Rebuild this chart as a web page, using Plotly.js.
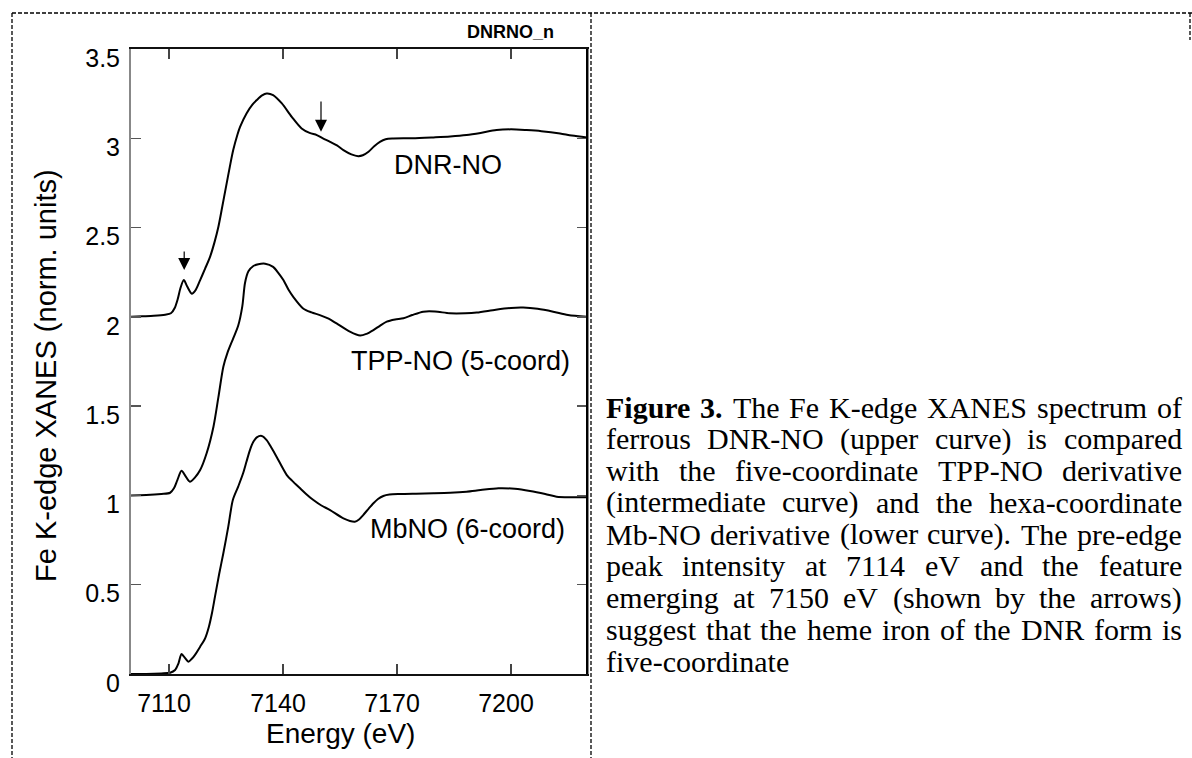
<!DOCTYPE html>
<html>
<head>
<meta charset="utf-8">
<script src="https://cdn.plot.ly/plotly-3.0.1.min.js"></script>
<style>
html,body{margin:0;padding:0;background:#fff;}
#chart{width:1192px;height:758px;}
</style>
</head>
<body>
<div id="chart"></div>
<script>
// ---------------- data ----------------
const energyDNR = [7100, 7103, 7106, 7109, 7110.5, 7111.5, 7112.3, 7113.0, 7113.9, 7114.8, 7116.0, 7117.0, 7118.2, 7119.5, 7120.8, 7122.0, 7123.0, 7124.0, 7125.0, 7126.0, 7126.9, 7128.0, 7128.7, 7130.4, 7132.0, 7133.1, 7134.5, 7135.7, 7137.4, 7139.7, 7142.3, 7144.9, 7147.0, 7148.9, 7150.5, 7152.4, 7154.2, 7155.9, 7158.0, 7159.8, 7161.0, 7162.5, 7164.0, 7165.5, 7167.0, 7169, 7174, 7179.6, 7184, 7188.3, 7192, 7196.2, 7200, 7204.1, 7208, 7212.9, 7216, 7220];
const dnrNO = [2.0, 2.003, 2.006, 2.012, 2.02, 2.05, 2.10, 2.16, 2.206, 2.17, 2.13, 2.15, 2.206, 2.27, 2.336, 2.42, 2.505, 2.615, 2.728, 2.84, 2.934, 3.02, 3.064, 3.139, 3.19, 3.214, 3.24, 3.251, 3.242, 3.195, 3.12, 3.055, 3.03, 3.018, 3.0, 2.98, 2.96, 2.934, 2.91, 2.90, 2.905, 2.925, 2.955, 2.98, 2.995, 2.999, 3.0, 3.005, 3.01, 3.018, 3.03, 3.046, 3.05, 3.046, 3.04, 3.027, 3.015, 3.005];

const energyTPP = [7100, 7104, 7108, 7110.3, 7111.3, 7112.2, 7113.3, 7114.3, 7115.5, 7116.8, 7118.2, 7119.9, 7121.7, 7123.0, 7124.3, 7125.4, 7126.9, 7128.2, 7129.3, 7130.0, 7130.9, 7132.2, 7133.5, 7135.3, 7137.4, 7138.8, 7140.1, 7141.5, 7142.7, 7145.3, 7147.5, 7149.7, 7152, 7154.1, 7157.6, 7160.3, 7162, 7163.8, 7165.5, 7167.3, 7169.5, 7171.7, 7174, 7176.9, 7180, 7183.9, 7188, 7191, 7196, 7200, 7203.2, 7207, 7211.1, 7215, 7220];
const tppNO = [1.0, 1.002, 1.008, 1.015, 1.04, 1.086, 1.138, 1.11, 1.077, 1.10, 1.142, 1.236, 1.385, 1.55, 1.721, 1.80, 1.88, 1.95, 2.06, 2.19, 2.255, 2.285, 2.295, 2.298, 2.28, 2.245, 2.206, 2.15, 2.112, 2.047, 2.025, 2.01, 1.99, 1.963, 1.917, 1.895, 1.905, 1.926, 1.95, 1.973, 1.985, 1.992, 2.01, 2.029, 2.03, 2.02, 2.02, 2.024, 2.04, 2.05, 2.052, 2.045, 2.029, 2.01, 2.0];

const energyMb = [7100, 7104, 7108, 7110.3, 7111.6, 7112.5, 7113.3, 7114.2, 7115.1, 7116.0, 7116.8, 7118.2, 7119.5, 7120.5, 7121.3, 7122.1, 7123.2, 7124.3, 7125.6, 7126.8, 7128.2, 7129.5, 7130.4, 7131.3, 7132.2, 7133.1, 7134.4, 7135.7, 7137.0, 7138.3, 7141.0, 7142.5, 7144.5, 7146, 7148.0, 7150, 7152.4, 7155.9, 7158.9, 7160, 7161.1, 7162.5, 7163.8, 7165, 7166.4, 7168, 7170.8, 7175, 7179.6, 7184, 7188.3, 7192, 7196.7, 7201, 7205, 7209, 7212, 7216, 7220];
const mbNO = [0, 0.0, 0.003, 0.007, 0.022, 0.06, 0.112, 0.09, 0.069, 0.085, 0.106, 0.153, 0.2, 0.265, 0.34, 0.433, 0.56, 0.676, 0.825, 0.974, 1.049, 1.124, 1.19, 1.254, 1.30, 1.325, 1.333, 1.31, 1.265, 1.217, 1.114, 1.08, 1.04, 1.01, 0.974, 0.945, 0.918, 0.872, 0.853, 0.865, 0.89, 0.925, 0.956, 0.98, 0.997, 1.005, 1.008, 1.01, 1.012, 1.015, 1.021, 1.03, 1.04, 1.037, 1.025, 1.008, 0.993, 0.99, 0.99];

const curveNames = ['DNR-NO', 'TPP-NO (5-coord)', 'MbNO (6-coord)'];
const xTickVals = [7110, 7140, 7170, 7200];
const yTickVals = [0, 0.5, 1, 1.5, 2, 2.5, 3, 3.5];
const arrowEnergies = [7114, 7150];
const sampleTag = 'DNRNO_n';
const xTitle = 'Energy (eV)';
const yTitle = 'Fe K-edge XANES (norm. units)';
const captionLines = [
  'Figure 3. The Fe K-edge XANES spectrum of',
  'ferrous DNR-NO (upper curve) is compared',
  'with the five-coordinate TPP-NO derivative',
  '(intermediate curve) and the hexa-coordinate',
  'Mb-NO derivative (lower curve). The pre-edge',
  'peak intensity at 7114 eV and the feature',
  'emerging at 7150 eV (shown by the arrows)',
  'suggest that the heme iron of the DNR form is',
  'five-coordinate'
];
const captionBold = ['Figure', '3.'];

// ---------------- layout helpers ----------------
const W = 1192, H = 758;
const M = {l: 131, r: 605, t: 49, b: 84};
const plotW = W - M.l - M.r, plotH = H - M.t - M.b;
const px2x = p => (p - M.l) / plotW;
const px2y = p => (H - M.b - p) / plotH;

const SANS = 'Liberation Sans, Arial, Helvetica, sans-serif';
const SERIF = 'Liberation Serif, Times New Roman, Times, serif';

const traces = [
  {x: energyDNR, y: dnrNO, name: curveNames[0]},
  {x: energyTPP, y: tppNO, name: curveNames[1]},
  {x: energyMb, y: mbNO, name: curveNames[2]}
].map(t => Object.assign(t, {
  type: 'scatter', mode: 'lines',
  line: {color: '#000', width: 2, shape: 'spline', smoothing: 0.8},
  hoverinfo: 'skip'
}));

const annotations = [];
// axis titles (placed as in the reference, slightly off-centre)
annotations.push({
  xref: 'paper', yref: 'paper', x: px2x(340), y: px2y(733),
  text: xTitle, showarrow: false, xanchor: 'center', yanchor: 'middle',
  font: {family: SANS, size: 28, color: '#000'}
});
annotations.push({
  xref: 'paper', yref: 'paper', x: px2x(46), y: px2y(376),
  text: yTitle, showarrow: false, xanchor: 'center', yanchor: 'middle',
  textangle: -90,
  font: {family: SANS, size: 29, color: '#000'}
});
// curve labels
const labelPos = [[7183.4, 2.85], [7186.7, 1.753], [7188.6, 0.812]];
curveNames.forEach((n, i) => annotations.push({
  xref: 'x', yref: 'y', x: labelPos[i][0], y: labelPos[i][1],
  text: n, showarrow: false, xanchor: 'center', yanchor: 'middle',
  font: {family: SANS, size: 27, color: '#000'}
}));
// arrows
const arrowTip = [2.262, 3.036], arrowTail = [2.374, 3.214];
arrowEnergies.forEach((e, i) => annotations.push({
  xref: 'x', yref: 'y', x: e, y: arrowTip[i],
  axref: 'x', ayref: 'y', ax: e, ay: arrowTail[i],
  text: '', showarrow: true, arrowhead: 2, arrowsize: 2, arrowwidth: 1.2,
  arrowcolor: '#000', standoff: 0
}));
// sample tag
annotations.push({
  xref: 'paper', yref: 'paper', x: px2x(556), y: px2y(32),
  text: '<b>' + sampleTag + '</b>', showarrow: false,
  xanchor: 'right', yanchor: 'middle',
  font: {family: SANS, size: 18, color: '#000'}
});

// caption, justified word by word
const FS = 30;
const ctx = document.createElement('canvas').getContext('2d');
function measure(word, bold) {
  ctx.font = (bold ? 'bold ' : '') + FS + 'px "Liberation Serif"';
  return ctx.measureText(word).width;
}
const capLeft = 605, capRight = 1181, capTop = 407, capStep = 31.75;
ctx.font = FS + 'px "Liberation Serif"';
const spaceW = ctx.measureText(' ').width;
captionLines.forEach((line, li) => {
  const words = line.split(' ');
  const bolds = words.map((w, wi) => li === 0 && wi < captionBold.length && captionBold[wi] === w);
  const widths = words.map((w, wi) => measure(w, bolds[wi]));
  const total = widths.reduce((a, b) => a + b, 0);
  const last = li === captionLines.length - 1;
  const gap = (last || words.length < 2) ? spaceW : (capRight - capLeft - total) / (words.length - 1);
  let x = capLeft;
  words.forEach((w, wi) => {
    annotations.push({
      xref: 'paper', yref: 'paper', x: px2x(x), y: px2y(capTop + li * capStep),
      text: bolds[wi] ? '<b>' + w + '</b>' : w, showarrow: false,
      xanchor: 'left', yanchor: 'middle', borderpad: 0,
      font: {family: SERIF, size: FS, color: '#000'}
    });
    x += widths[wi] + gap;
  });
});

// frame pieces and dashed borders
const dashed = {color: '#000', width: 1.3, dash: '4px,2px'};
const shapes = [
  {type: 'line', xref: 'paper', yref: 'paper', x0: 1, x1: 1, y0: 0, y1: 1, line: {color: '#000', width: 2}},
  {type: 'line', xref: 'paper', yref: 'paper', x0: px2x(12), x1: px2x(1192), y0: px2y(13), y1: px2y(13), line: dashed},
  {type: 'line', xref: 'paper', yref: 'paper', x0: px2x(12), x1: px2x(12), y0: px2y(13), y1: px2y(758), line: dashed},
  {type: 'line', xref: 'paper', yref: 'paper', x0: px2x(591), x1: px2x(591), y0: px2y(13), y1: px2y(758), line: dashed},
  {type: 'line', xref: 'paper', yref: 'paper', x0: px2x(1190), x1: px2x(1190), y0: px2y(13), y1: px2y(40), line: dashed}
];

const layout = {
  width: W, height: H,
  margin: {l: M.l, r: M.r, t: M.t, b: M.b, pad: 0},
  paper_bgcolor: '#fff', plot_bgcolor: '#fff',
  showlegend: false,
  font: {family: SANS, color: '#000'},
  xaxis: {
    range: [7100, 7220], tickvals: xTickVals, ticktext: xTickVals.map(String),
    ticks: 'inside', ticklen: 10, tickwidth: 1.5, tickcolor: '#444',
    showline: true, linecolor: '#111', linewidth: 2, mirror: 'ticks',
    showgrid: false, zeroline: false,
    tickfont: {family: SANS, size: 25, color: '#000'},
    ticklabelshift: -5, ticklabelstandoff: 6,
    automargin: false
  },
  yaxis: {
    range: [0, 3.5], tickvals: yTickVals,
    ticks: 'inside', ticklen: 10, tickwidth: 1.5, tickcolor: '#555',
    showline: true, linecolor: '#888', linewidth: 2, mirror: 'ticks',
    showgrid: false, zeroline: false,
    tickfont: {family: SANS, size: 25, color: '#000'},
    ticklabelshift: 9, ticklabelstandoff: 4,
    automargin: false
  },
  annotations: annotations,
  shapes: shapes
};

Plotly.newPlot('chart', traces, layout, {displayModeBar: false, staticPlot: true});
</script>
</body>
</html>
